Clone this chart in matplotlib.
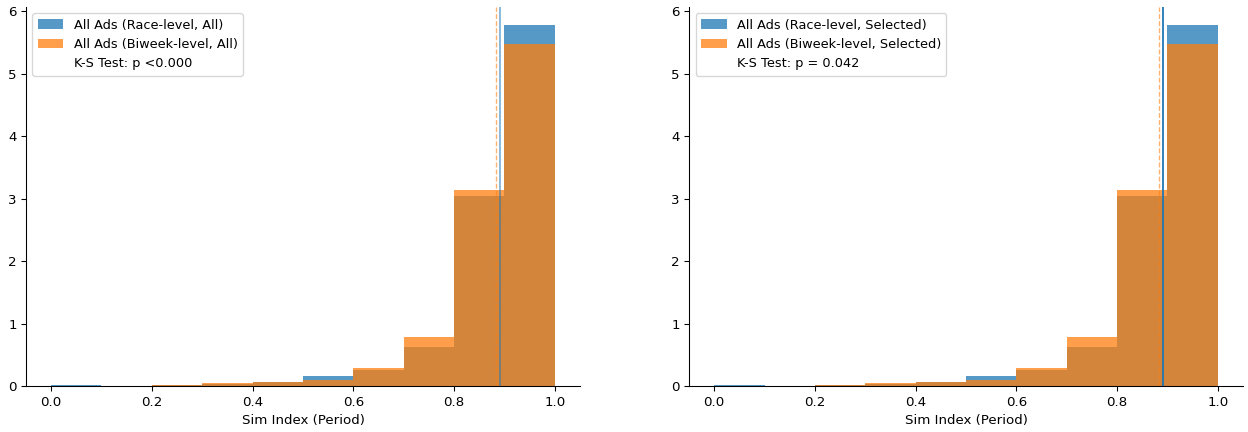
import matplotlib
matplotlib.use("Agg")
import matplotlib.pyplot as plt
import numpy as np

bin_edges = [0.0, 0.1, 0.2, 0.3, 0.4, 0.5, 0.6, 0.7, 0.8, 0.9, 1.0]

# Left panel (All)
race_all = [0.02, 0.005, 0.012, 0.04, 0.06, 0.165, 0.26, 0.635, 3.04, 5.78]
biweek_all = [0.01, 0.005, 0.018, 0.048, 0.066, 0.105, 0.295, 0.79, 3.14, 5.48]
race_all_mean = 0.892
biweek_all_mean = 0.884

# Right panel (Selected)
race_sel = [0.02, 0.005, 0.012, 0.04, 0.06, 0.165, 0.26, 0.635, 3.04, 5.78]
biweek_sel = [0.01, 0.005, 0.018, 0.048, 0.066, 0.105, 0.295, 0.79, 3.14, 5.48]
race_sel_mean = 0.891
biweek_sel_mean = 0.883

labels_left = ["All Ads (Race-level, All)", "All Ads (Biweek-level, All)", "K-S Test: p <0.000"]
labels_right = ["All Ads (Race-level, Selected)", "All Ads (Biweek-level, Selected)", "K-S Test: p = 0.042"]

fig, axes = plt.subplots(1, 2, figsize=(13, 4.5), dpi=96)
fig.subplots_adjust(left=0.0208, right=0.996, top=0.984, bottom=0.106, wspace=0.197)

centers = (np.array(bin_edges[:-1]) + np.array(bin_edges[1:])) / 2

panels = [
    (axes[0], race_all, biweek_all, race_all_mean, biweek_all_mean, labels_left, 0.5),
    (axes[1], race_sel, biweek_sel, race_sel_mean, biweek_sel_mean, labels_right, 0.9),
]
for ax, race, biweek, rm, bm, labels, lalpha in panels:
    ax.hist(centers, bins=bin_edges, weights=race, color="C0", alpha=0.75, label=labels[0])
    ax.hist(centers, bins=bin_edges, weights=biweek, color="C1", alpha=0.75, label=labels[1])
    ax.axvline(rm, color="C0", linestyle="-", linewidth=1.5, alpha=lalpha)
    ax.axvline(bm, color="C1", linestyle="--", linewidth=1.0, alpha=0.6)
    ax.plot([], [], " ", label=labels[2])
    ax.set_xlabel("Sim Index (Period)")
    ax.legend(loc="upper left", fontsize=9.7)
    ax.spines["top"].set_visible(False)
    ax.spines["right"].set_visible(False)

fig.savefig("out.png", dpi=96)
